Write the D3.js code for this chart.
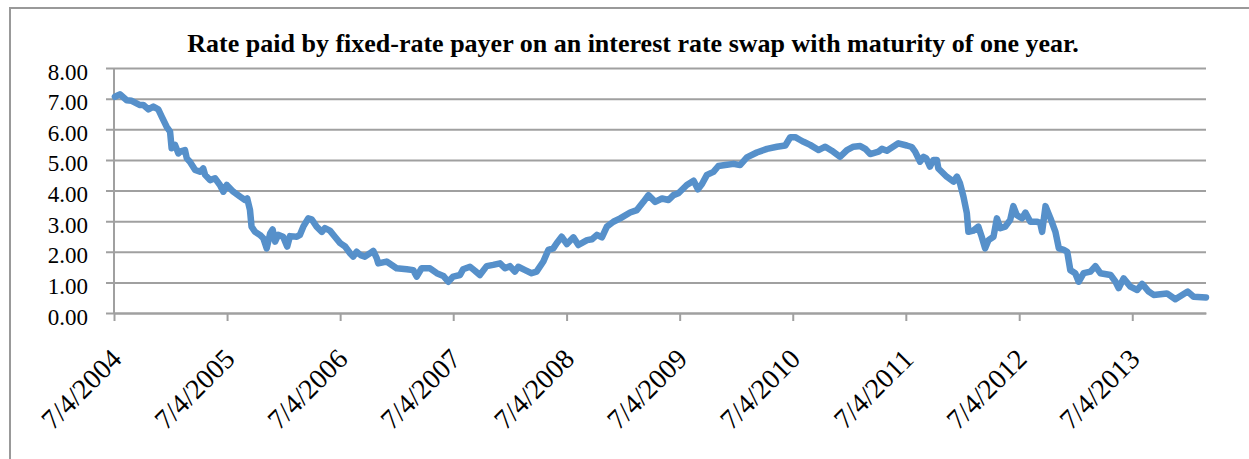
<!DOCTYPE html>
<html lang="en">
<head>
<meta charset="UTF-8" />
<script src="https://d3js.org/d3.v7.min.js"></script>
<style>
  body { margin: 0; background: #fff; }
  text { font-family: "Liberation Serif", serif; }
</style>
<title>Swap rate</title>
</head>
<body>
<div id="chart"></div>
<script>
const chartTitle = "Rate paid by fixed-rate payer on an interest rate swap with maturity of one year.";
const yTicks = [0, 1, 2, 3, 4, 5, 6, 7, 8];
const xTickDates = ["2004-07-04", "2005-07-04", "2006-07-04", "2007-07-04", "2008-07-04",
  "2009-07-04", "2010-07-04", "2011-07-04", "2012-07-04", "2013-07-04"];

const rateDates = [
  "2004-07-07", "2004-07-23", "2004-08-14", "2004-08-30", "2004-09-26", "2004-10-07", "2004-10-23", "2004-11-08",
  "2004-11-24", "2004-12-05", "2004-12-21", "2005-01-01", "2005-01-06", "2005-01-17", "2005-01-28", "2005-02-02",
  "2005-02-18", "2005-02-24", "2005-03-06", "2005-03-23", "2005-04-08", "2005-04-18", "2005-04-24", "2005-05-10",
  "2005-05-26", "2005-06-11", "2005-06-22", "2005-07-03",
  "2005-07-24", "2005-08-15", "2005-08-31", "2005-09-07", "2005-09-16", "2005-09-21", "2005-10-02", "2005-10-18",
  "2005-10-29", "2005-11-09", "2005-11-20", "2005-11-28", "2005-12-06", "2005-12-16", "2006-01-01", "2006-01-14",
  "2006-01-23", "2006-02-14", "2006-02-24", "2006-03-07", "2006-03-23", "2006-04-03", "2006-04-19", "2006-05-06",
  "2006-05-16", "2006-06-01", "2006-06-17",
  "2006-07-04", "2006-07-20", "2006-08-05", "2006-08-15", "2006-08-26", "2006-09-08", "2006-09-22", "2006-10-08",
  "2006-10-19", "2006-10-30", "2006-11-04", "2006-12-01", "2007-01-02", "2007-02-04", "2007-02-25", "2007-03-08",
  "2007-03-24", "2007-04-20", "2007-05-12", "2007-06-02", "2007-06-18",
  "2007-07-04", "2007-07-26", "2007-08-05", "2007-08-27", "2007-09-12", "2007-09-28", "2007-10-20", "2007-11-10",
  "2007-12-02", "2007-12-18", "2008-01-03", "2008-01-19", "2008-01-30", "2008-02-21", "2008-03-13", "2008-03-29",
  "2008-04-20", "2008-05-06", "2008-05-22", "2008-06-02", "2008-06-18",
  "2008-07-05", "2008-07-26", "2008-08-11", "2008-09-08", "2008-09-24", "2008-10-10", "2008-10-26", "2008-11-11",
  "2008-12-02", "2008-12-24", "2009-01-25", "2009-02-16", "2009-03-09", "2009-03-25", "2009-04-16", "2009-05-08",
  "2009-05-29", "2009-06-14", "2009-06-30",
  "2009-07-27", "2009-08-18", "2009-09-01", "2009-09-14", "2009-09-30", "2009-10-21", "2009-11-06", "2009-11-28",
  "2009-12-25", "2010-01-15", "2010-02-06", "2010-03-10", "2010-04-12", "2010-05-14", "2010-06-10", "2010-06-26",
  "2010-07-12", "2010-07-28", "2010-08-08", "2010-08-29", "2010-09-25", "2010-10-17", "2010-11-07", "2010-12-04",
  "2010-12-26", "2011-01-16", "2011-02-07", "2011-02-23", "2011-03-11", "2011-04-07", "2011-04-18", "2011-05-04",
  "2011-06-10",
  "2011-07-07", "2011-07-23", "2011-08-03", "2011-08-19", "2011-08-30", "2011-09-08", "2011-09-20", "2011-10-01",
  "2011-10-12", "2011-10-17", "2011-11-13", "2011-12-05", "2011-12-16", "2011-12-26", "2012-01-06", "2012-01-17",
  "2012-01-22", "2012-02-07", "2012-02-23", "2012-03-05", "2012-03-16", "2012-03-27", "2012-04-12", "2012-04-23",
  "2012-05-04", "2012-05-20", "2012-06-05", "2012-06-15", "2012-06-26",
  "2012-07-13", "2012-07-24", "2012-08-09", "2012-08-31", "2012-09-10", "2012-09-16", "2012-09-27", "2012-10-13",
  "2012-10-29", "2012-11-09", "2012-11-25", "2012-12-06", "2012-12-16", "2013-01-01", "2013-01-12", "2013-01-28",
  "2013-02-19", "2013-03-07", "2013-03-23", "2013-04-25", "2013-05-11", "2013-05-21", "2013-06-06", "2013-06-28",
  "2013-07-20", "2013-08-05", "2013-08-26", "2013-09-11", "2013-10-24", "2013-11-20", "2013-12-12", "2013-12-30",
  "2014-01-18", "2014-02-27"
];
const rateValues = [
  7.06, 7.14, 6.95, 6.93, 6.79, 6.79, 6.65, 6.74,
  6.65, 6.41, 6.08, 5.92, 5.38, 5.49, 5.21, 5.27,
  5.32, 5.05, 4.94, 4.67, 4.61, 4.72, 4.51, 4.34,
  4.40, 4.18, 3.96, 4.18,
  3.96, 3.80, 3.69, 3.74, 3.36, 2.82, 2.65, 2.55,
  2.44, 2.11, 2.60, 2.73, 2.33, 2.55, 2.49, 2.17,
  2.51, 2.49, 2.55, 2.82, 3.09, 3.06, 2.82, 2.65,
  2.77, 2.69, 2.49,
  2.28, 2.17, 1.95, 1.84, 2.00, 1.89, 1.84, 1.95,
  2.03, 1.79, 1.62, 1.68, 1.46, 1.43, 1.40, 1.19,
  1.46, 1.46, 1.30, 1.21, 1.02,
  1.19, 1.24, 1.43, 1.51, 1.38, 1.24, 1.53, 1.57,
  1.62, 1.46, 1.53, 1.35, 1.51, 1.40, 1.30, 1.35,
  1.68, 2.06, 2.11, 2.28, 2.49,
  2.25, 2.47, 2.22, 2.38, 2.41, 2.55, 2.47, 2.82,
  2.98, 3.09, 3.28, 3.36, 3.63, 3.85, 3.63, 3.74,
  3.69, 3.85, 3.91,
  4.18, 4.32, 4.04, 4.21, 4.51, 4.61, 4.80, 4.83,
  4.87, 4.83, 5.08, 5.24, 5.36, 5.43, 5.47, 5.74,
  5.74, 5.65, 5.59, 5.49, 5.32, 5.43, 5.30, 5.10,
  5.32, 5.43, 5.45, 5.36, 5.19, 5.27, 5.36, 5.30,
  5.54,
  5.47, 5.42, 5.27, 4.94, 5.10, 5.05, 4.78, 5.00,
  5.00, 4.72, 4.45, 4.29, 4.45, 4.23, 3.80, 3.26,
  2.65, 2.69, 2.82, 2.49, 2.11, 2.38, 2.49, 3.09,
  2.77, 2.82, 3.04, 3.49, 3.20,
  3.09, 3.28, 2.98, 2.98, 2.93, 2.65, 3.49, 3.09,
  2.65, 2.11, 2.06, 2.00, 1.40, 1.30, 1.02, 1.30,
  1.35, 1.53, 1.30, 1.24, 1.02, 0.81, 1.13, 0.86,
  0.75, 0.95, 0.70, 0.59, 0.64, 0.45, 0.59, 0.70,
  0.53, 0.51
];

const width = 1249, height = 459;
const margin = { left: 114, right: 43, top: 68, bottom: 146 };
const parse = d3.timeParse("%Y-%m-%d");
const data = rateDates.map((d, i) => ({ date: parse(d), value: rateValues[i] }));

const svg = d3.select("#chart").append("svg")
  .attr("width", width)
  .attr("height", height)
  .style("display", "block");

svg.append("rect").attr("width", width).attr("height", height).attr("fill", "#fff");

// chart frame (runs off the right and bottom edge)
svg.append("rect")
  .attr("x", 10).attr("y", 8)
  .attr("width", width + 20).attr("height", height + 20)
  .attr("fill", "none").attr("stroke", "#999").attr("stroke-width", 2);

const x = d3.scaleTime()
  .domain([parse(xTickDates[0]), data[data.length - 1].date])
  .range([margin.left, width - margin.right]);
const y = d3.scaleLinear()
  .domain([0, 8])
  .range([height - margin.bottom, margin.top]);

// y axis + gridlines
const yAxis = svg.append("g")
  .attr("transform", `translate(${margin.left - 8},0)`)
  .call(d3.axisLeft(y)
    .tickValues(yTicks)
    .tickFormat(d3.format(".2f"))
    .tickSize(-(width - margin.right - margin.left + 8))
    .tickPadding(18));
yAxis.select(".domain").remove();
yAxis.selectAll("line").attr("stroke", "#a0a0a0").attr("stroke-width", 2);
yAxis.selectAll("text")
  .attr("fill", "#000")
  .attr("dy", "0.48em")
  .style("font-size", "23px");

svg.append("line")
  .attr("x1", margin.left).attr("x2", margin.left)
  .attr("y1", y(8)).attr("y2", y(0))
  .attr("stroke", "#a0a0a0").attr("stroke-width", 2);

// x axis
const xAxis = svg.append("g")
  .attr("transform", `translate(0,${y(0)})`)
  .call(d3.axisBottom(x)
    .tickValues(xTickDates.map(parse))
    .tickFormat(d3.timeFormat("%-m/%-d/%Y"))
    .tickSizeInner(8)
    .tickSizeOuter(0));
xAxis.select(".domain").attr("stroke", "#a0a0a0").attr("stroke-width", 2);
xAxis.selectAll("line").attr("stroke", "#a0a0a0").attr("stroke-width", 2);
xAxis.selectAll("text")
  .attr("y", null)
  .attr("dy", null)
  .attr("fill", "#000")
  .attr("text-anchor", "end")
  .attr("dominant-baseline", "central")
  .attr("transform", "translate(2,41) rotate(-45)")
  .style("font-size", "28px");

// series
const line = d3.line()
  .x(d => x(d.date))
  .y(d => y(d.value));

svg.append("path")
  .datum(data)
  .attr("d", line)
  .attr("fill", "none")
  .attr("stroke", "#5690ca")
  .attr("stroke-width", 6.5)
  .attr("stroke-linejoin", "round")
  .attr("stroke-linecap", "round");

svg.append("text")
  .attr("x", 633)
  .attr("y", 52)
  .attr("text-anchor", "middle")
  .style("font-size", "26px")
  .style("font-weight", "bold")
  .text(chartTitle);
</script>
</body>
</html>
